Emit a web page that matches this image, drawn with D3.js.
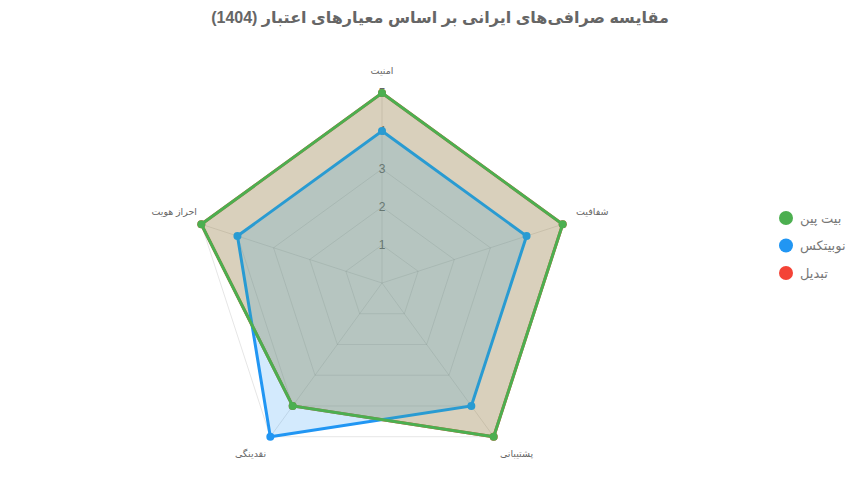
<!DOCTYPE html>
<html><head><meta charset="utf-8">
<script src="https://cdn.jsdelivr.net/npm/d3@7"></script>
<style>
html,body{margin:0;padding:0;background:#fff;}
svg{display:block;font-family:"Liberation Sans",Arial,"DejaVu Sans",sans-serif;}
</style></head>
<body><svg id="c" width="856" height="493"></svg>
<script>
const title = "مقایسه صرافی‌های ایرانی بر اساس معیارهای اعتبار (1404)";
const axes = ["امنیت", "شفافیت", "پشتیبانی", "نقدینگی", "احراز هویت"];
const seriesNames = ["بیت پین", "نوبیتکس", "تبدیل"];
const bitpin = [5, 5, 5, 4, 5];
const nobitex = [4, 4, 4, 5, 4];
const tabdil = [5, 5, 5, 4, 5];
const colors = ["#4CAF50", "#2196F3", "#F44336"];
const ticks = [1, 2, 3, 4, 5];

const series = [bitpin, nobitex, tabdil];
const svg = d3.select("#c");
const cx = 382, cy = 283, R = 190;
const r = d3.scaleLinear().domain([0, 5]).range([0, R]);
const ang = d3.scaleLinear().domain([0, axes.length]).range([-Math.PI/2, 1.5*Math.PI]);
const pt = (i, v) => [cx + r(v)*Math.cos(ang(i)), cy + r(v)*Math.sin(ang(i))];

// title
svg.append("text").attr("x", 440).attr("y", 23).attr("text-anchor","middle")
  .attr("font-size", 16).attr("font-weight","bold").attr("fill","#666").text(title);

const g = svg.append("g");
// grid
ticks.forEach(t => {
  g.append("path").attr("d", d3.line()(axes.map((a,i)=>pt(i,t))) + "Z")
   .attr("fill","none").attr("stroke","rgba(0,0,0,0.1)").attr("stroke-width",1);
});
axes.forEach((a,i)=>{
  const p = pt(i, 5);
  g.append("line").attr("x1",cx).attr("y1",cy).attr("x2",p[0]).attr("y2",p[1])
   .attr("stroke","rgba(0,0,0,0.1)").attr("stroke-width",1);
});
// tick labels
ticks.forEach(t=>{
  g.append("text").attr("x",cx).attr("y",cy - r(t)).attr("dy","0.35em")
   .attr("text-anchor","middle").attr("font-size",12).attr("fill","#666").text(t);
});
// point labels
axes.forEach((a,i)=>{
  const c = Math.cos(ang(i)), s = Math.sin(ang(i));
  const d = 14;
  let x = cx + (R+d)*c, y = cy + (R+d)*s;
  let anchor = Math.abs(c) < 0.1 ? "middle" : (c > 0 ? "start" : "end");
  if (s < -0.9) y = cy - R - 22;
  else if (s < 0) { y -= 8; if (c < 0) x += 9; }
  else { y += 6; x += (c > 0 ? -2 : 4); }
  g.append("text").attr("x",x).attr("y",y).attr("dy","0.35em").attr("text-anchor",anchor)
   .attr("font-size",9.5).attr("fill","#666").text(a);
});
// datasets drawn in reverse order (first on top)
const line = d3.lineRadial().angle((d,i)=>ang(i)+Math.PI/2).radius(d=>r(d)).curve(d3.curveLinearClosed);
for (let k = series.length-1; k >= 0; k--) {
  const col = d3.color(colors[k]);
  const fillCol = col.copy({opacity:0.2});
  const sg = g.append("g").attr("transform",`translate(${cx},${cy})`);
  sg.append("path").attr("d", line(series[k])).attr("fill", fillCol.toString())
    .attr("stroke", colors[k]).attr("stroke-width",3).attr("stroke-linejoin","miter");
  series[k].forEach((v,i)=>{
    const p = pt(i,v);
    g.append("circle").attr("cx",p[0]).attr("cy",p[1]).attr("r",4).attr("fill",colors[k]);
  });
}
// legend
const lg = svg.append("g");
seriesNames.forEach((n,k)=>{
  const y = 218 + k*27.5;
  lg.append("circle").attr("cx",786).attr("cy",y).attr("r",7).attr("fill",colors[k]);
  lg.append("text").attr("x",800).attr("y",y).attr("dy","0.35em").attr("text-anchor","start")
    .attr("direction","ltr").attr("font-size",13).attr("fill","#777").text(n);
});
</script></body></html>
